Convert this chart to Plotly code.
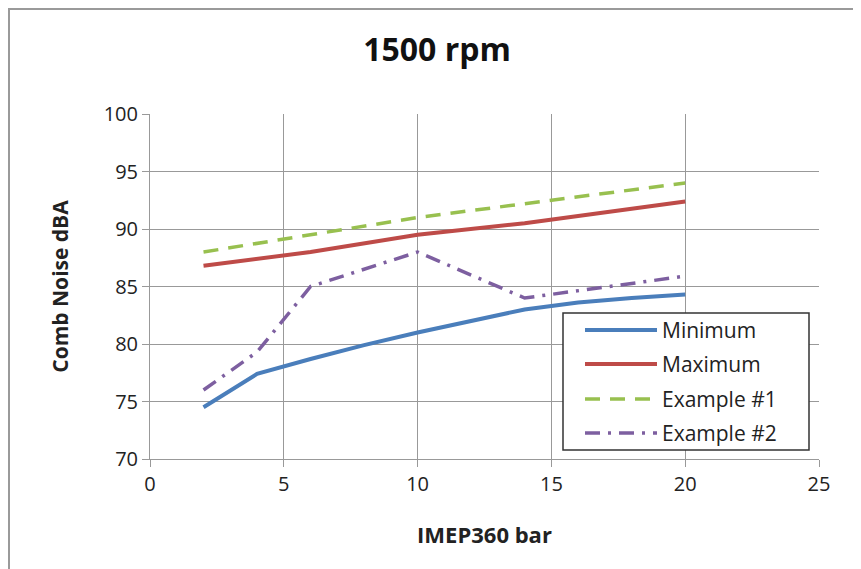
import plotly.graph_objects as go

x_min = [2, 4, 6, 8, 10, 12, 14, 16, 18, 20]
y_min = [74.5, 77.4, 78.7, 79.9, 81.0, 82.0, 83.0, 83.6, 84.0, 84.3]
x_max = [2, 6, 10, 14, 20]
y_max = [86.8, 88.0, 89.5, 90.5, 92.4]
x_ex1 = [2, 10, 20]
y_ex1 = [88.0, 91.0, 94.0]
x_ex2 = [2, 4, 6, 10, 14, 20]
y_ex2 = [76.0, 79.3, 85.0, 88.0, 84.0, 85.9]

names = ["Minimum", "Maximum", "Example #1", "Example #2"]
x_ticks = [0, 5, 10, 15, 20, 25]
y_ticks = [70, 75, 80, 85, 90, 95, 100]

FONT = "Open Sans, sans-serif"
colors = ["#4a7ebb", "#be4b48", "#98c04f", "#7d5fa0"]
dashes = ["solid", "solid", "15px,10px", "15px,8px,3px,8px"]
widths = [4, 4, 3.5, 3.5]

# page geometry (figure is offset 8px by body margin)
L, T, PW, PH = 142, 106, 669, 345
W, H = 853, 561

fig = go.Figure()
series = [(x_min, y_min), (x_max, y_max), (x_ex1, y_ex1), (x_ex2, y_ex2)]
for (xs, ys), nm, c, d, w in zip(series, names, colors, dashes, widths):
    fig.add_trace(go.Scatter(x=xs, y=ys, mode="lines", name=nm, showlegend=False,
                             line=dict(color=c, width=w, dash=d)))

def px(fx):
    return (fx - L) / PW

def py(fy):
    return (T + PH - fy) / PH

shapes = []
# outer border (left and top)
shapes.append(dict(type="line", xref="paper", yref="paper", x0=px(1), x1=px(1), y0=py(H), y1=py(0),
                   line=dict(color="#9a9a9a", width=2)))
shapes.append(dict(type="line", xref="paper", yref="paper", x0=px(0), x1=px(W), y0=py(1), y1=py(1),
                   line=dict(color="#9a9a9a", width=2)))
# legend box
shapes.append(dict(type="rect", xref="paper", yref="paper", x0=px(555), x1=px(801), y0=py(442), y1=py(305),
                   fillcolor="white", line=dict(color="#333", width=1.5), layer="above"))
annotations = []
row_y = [322, 356, 391, 425]
for nm, c, d, w, ry in zip(names, colors, dashes, widths, row_y):
    shapes.append(dict(type="line", xref="paper", yref="paper", x0=px(577), x1=px(649), y0=py(ry), y1=py(ry),
                       line=dict(color=c, width=w, dash=d), layer="above"))
    annotations.append(dict(text=nm, xref="paper", yref="paper", x=px(652), y=py(ry), xanchor="left",
                            yanchor="middle", showarrow=False, font=dict(size=21, family=FONT, color="#222")))

fig.update_layout(
    width=W, height=H,
    margin=dict(l=L, r=W - L - PW, t=T, b=H - T - PH),
    paper_bgcolor="white", plot_bgcolor="white",
    font=dict(family=FONT, color="#222", size=20),
    title=dict(text="<b>1500 rpm</b>", x=(437 - 8) / W, xanchor="center", y=1 - (50 - 8) / H, yanchor="middle",
               font=dict(size=32, family=FONT, color="#111")),
    showlegend=False,
    xaxis=dict(range=[0, 25], tickvals=x_ticks, showgrid=True, gridcolor="#999", gridwidth=1,
               showline=True, linecolor="#999", ticks="outside", ticklen=7, tickcolor="#999",
               zeroline=False, tickfont=dict(size=20),
               title=dict(text="<b>IMEP360 bar</b>", font=dict(size=22), standoff=31)),
    yaxis=dict(range=[70, 100], tickvals=y_ticks, showgrid=True, gridcolor="#999", gridwidth=1,
               showline=True, linecolor="#999", ticks="outside", ticklen=7, tickcolor="#999",
               zeroline=False, tickfont=dict(size=20),
               title=dict(text="<b>Comb Noise dBA</b>", font=dict(size=21), standoff=29)),
    shapes=shapes,
    annotations=annotations,
)

fig.write_html("out.html")
